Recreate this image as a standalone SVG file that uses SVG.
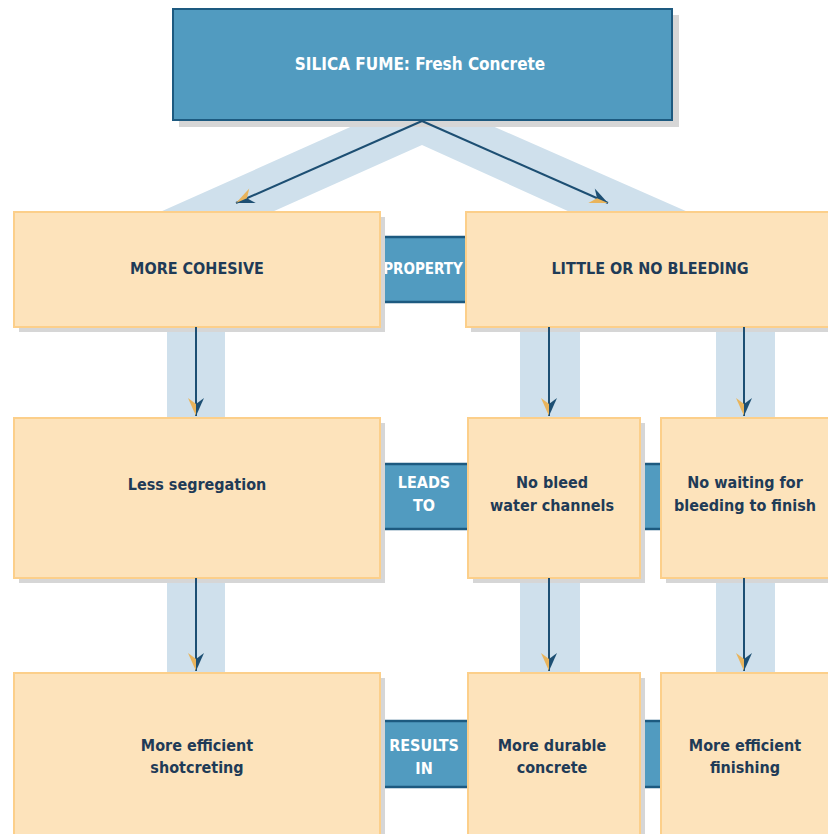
<svg xmlns="http://www.w3.org/2000/svg" width="828" height="834" viewBox="0 0 828 834">
<style>
.shadow{fill:#d6d6d6}
.obox{fill:#fde3bb;stroke:#fccf8a;stroke-width:2}
.bband{fill:#519bc0}
.bedge{stroke:#1d5a80;stroke-width:2.5}
.lband{fill:#cfe0ec}
.conn{stroke:#1d4f73;stroke-width:2;fill:none;marker-end:url(#ah)}
.t{font-family:"DejaVu Sans Condensed","Liberation Sans",sans-serif;font-weight:bold;font-size:16px;text-anchor:middle}
.dk{fill:#1f3b57}
.wt{fill:#ffffff}
</style>
<defs>
<marker id="ah" markerUnits="userSpaceOnUse" markerWidth="22" markerHeight="22" viewBox="-20 -10 22 20" refX="0" refY="0" orient="auto">
<path d="M0,0 L-18,-8 L-12,0 Z" fill="#1d4f73"/>
<path d="M0,0 L-18,8 L-12,0 Z" fill="#e9b45c"/>
</marker>
</defs>
<rect width="828" height="834" fill="#ffffff"/>

<g id="bands">
<polygon class="lband" points="160,212 422,95 688,212 570,212 422,145 272,212"/>
<rect class="lband" x="167" y="327" width="58" height="91"/>
<rect class="lband" x="520" y="327" width="60" height="91"/>
<rect class="lband" x="716" y="327" width="59" height="91"/>
<rect class="lband" x="167" y="578" width="58" height="95"/>
<rect class="lband" x="520" y="578" width="60" height="95"/>
<rect class="lband" x="716" y="578" width="59" height="95"/>
</g>

<g id="top">
<rect class="shadow" x="179" y="15" width="500" height="112"/>
<rect x="173" y="9" width="499" height="111" fill="#519bc0" stroke="#1d5a80" stroke-width="2"/>
<text class="t wt" x="420" y="70" style="font-size:17px">SILICA FUME: Fresh Concrete</text>
</g>

<g id="property">
<rect class="bband" x="380" y="236" width="86" height="67"/>
<line class="bedge" x1="380" y1="237" x2="466" y2="237"/>
<line class="bedge" x1="380" y1="302" x2="466" y2="302"/>
<text class="t wt" x="423" y="274" style="font-size:15px">PROPERTY</text>
</g>
<g id="leadsto">
<rect class="bband" x="380" y="463" width="88" height="67"/>
<line class="bedge" x1="380" y1="464" x2="468" y2="464"/>
<line class="bedge" x1="380" y1="529" x2="468" y2="529"/>
<rect class="bband" x="640" y="463" width="21" height="67"/>
<line class="bedge" x1="640" y1="464" x2="661" y2="464"/>
<line class="bedge" x1="640" y1="529" x2="661" y2="529"/>
<text class="t wt" x="424" y="488">LEADS</text>
<text class="t wt" x="424" y="511">TO</text>
</g>
<g id="resultsin">
<rect class="bband" x="380" y="720" width="88" height="68"/>
<line class="bedge" x1="380" y1="721" x2="468" y2="721"/>
<line class="bedge" x1="380" y1="787" x2="468" y2="787"/>
<rect class="bband" x="640" y="720" width="21" height="68"/>
<line class="bedge" x1="640" y1="721" x2="661" y2="721"/>
<line class="bedge" x1="640" y1="787" x2="661" y2="787"/>
<text class="t wt" x="424" y="751">RESULTS</text>
<text class="t wt" x="424" y="774">IN</text>
</g>

<g id="more-cohesive">
<rect class="shadow" x="19" y="217" width="366" height="115"/>
<rect class="obox" x="14" y="212" width="366" height="115"/>
<text class="t dk" x="197" y="274">MORE COHESIVE</text>
</g>
<g id="little-bleeding">
<rect class="shadow" x="471" y="217" width="362" height="115"/>
<rect class="obox" x="466" y="212" width="364" height="115"/>
<text class="t dk" x="650" y="274">LITTLE OR NO BLEEDING</text>
</g>
<g id="less-segregation">
<rect class="shadow" x="19" y="423" width="366" height="160"/>
<rect class="obox" x="14" y="418" width="366" height="160"/>
<text class="t dk" x="197" y="490">Less segregation</text>
</g>
<g id="no-bleed">
<rect class="shadow" x="473" y="423" width="172" height="160"/>
<rect class="obox" x="468" y="418" width="172" height="160"/>
<text class="t dk" x="552" y="488">No bleed</text>
<text class="t dk" x="552" y="511">water channels</text>
</g>
<g id="no-waiting">
<rect class="shadow" x="666" y="423" width="167" height="160"/>
<rect class="obox" x="661" y="418" width="169" height="160"/>
<text class="t dk" x="745" y="488">No waiting for</text>
<text class="t dk" x="745" y="511">bleeding to finish</text>
</g>
<g id="shotcreting">
<rect class="shadow" x="19" y="678" width="366" height="160"/>
<rect class="obox" x="14" y="673" width="366" height="165"/>
<text class="t dk" x="197" y="751">More efficient</text>
<text class="t dk" x="197" y="773">shotcreting</text>
</g>
<g id="durable">
<rect class="shadow" x="473" y="678" width="172" height="160"/>
<rect class="obox" x="468" y="673" width="172" height="165"/>
<text class="t dk" x="552" y="751">More durable</text>
<text class="t dk" x="552" y="773">concrete</text>
</g>
<g id="finishing">
<rect class="shadow" x="666" y="678" width="167" height="160"/>
<rect class="obox" x="661" y="673" width="169" height="165"/>
<text class="t dk" x="745" y="751">More efficient</text>
<text class="t dk" x="745" y="773">finishing</text>
</g>

<g id="connectors">
<line class="conn" x1="422" y1="121" x2="236" y2="203"/>
<line class="conn" x1="422" y1="121" x2="608" y2="203"/>
<line class="conn" x1="196" y1="327" x2="196" y2="416"/>
<line class="conn" x1="549" y1="327" x2="549" y2="416"/>
<line class="conn" x1="744" y1="327" x2="744" y2="416"/>
<line class="conn" x1="196" y1="578" x2="196" y2="671"/>
<line class="conn" x1="549" y1="578" x2="549" y2="671"/>
<line class="conn" x1="744" y1="578" x2="744" y2="671"/>
</g>
</svg>
